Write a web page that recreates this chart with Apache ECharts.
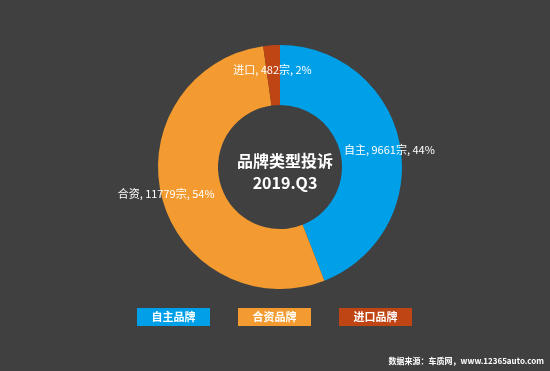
<!DOCTYPE html>
<html><head><meta charset="utf-8">
<script src="https://cdn.jsdelivr.net/npm/echarts@6/dist/echarts.min.js"></script>
<style>html,body{margin:0;padding:0;background:#404040;}#c{width:550px;height:371px;}</style>
</head><body><div id="c"></div>
<script>
const categories = ['自主', '合资', '进口'];
const legendNames = ['自主品牌', '合资品牌', '进口品牌'];
const values = [9661, 11779, 482];
const percents = ['44%', '54%', '2%'];
const colors = ['#00a0e9', '#f39b30', '#bf4514'];
const labelOffsets = [[16, 0], [-22, 3], [-1, -2]];

const chart = echarts.init(document.getElementById('c'));
const font = '"Noto Sans CJK SC", "Microsoft YaHei", sans-serif';
const rich = {};
legendNames.forEach((n, i) => {
  rich['r' + i] = {backgroundColor: colors[i], width: 73, height: 18, lineHeight: 18, align: 'center',
    color: '#fff', fontSize: 11, fontWeight: 'bold', fontFamily: font};
});
chart.setOption({
  backgroundColor: '#404040',
  title: {
    text: '品牌类型投诉\n2019.Q3', left: 280, top: 145, textAlign: 'center',
    textStyle: {color: '#fff', fontSize: 16, fontWeight: 'bold', lineHeight: 22, fontFamily: font}
  },
  graphic: [{type: 'text', right: 6, top: 357, style: {text: '数据来源：车质网，www.12365auto.com', fill: '#fff', font: 'bold 8px ' + font}}],
  legend: {
    top: 303, left: 127, itemGap: 23, itemWidth: 0, itemHeight: 0, icon: 'rect',
    selectedMode: false,
    data: legendNames,
    formatter: function (name) { const i = legendNames.indexOf(name); return '{r' + i + '|' + name + '}'; },
    textStyle: {rich: rich}
  },
  series: [{
    type: 'pie', center: [280, 167], radius: [62, 122], startAngle: 90, clockwise: true,
    avoidLabelOverlap: false,
    label: {position: 'inside', color: '#fff', fontSize: 11, fontFamily: font,
      formatter: function (p) { return p.data.cat + ', ' + p.value + '宗, ' + percents[p.dataIndex]; }},
    labelLine: {show: false},
    emphasis: {disabled: true},
    data: categories.map((c, i) => ({name: legendNames[i], cat: c, value: values[i],
      itemStyle: {color: colors[i]}, label: {offset: labelOffsets[i]}}))
  }]
});
</script></body></html>
